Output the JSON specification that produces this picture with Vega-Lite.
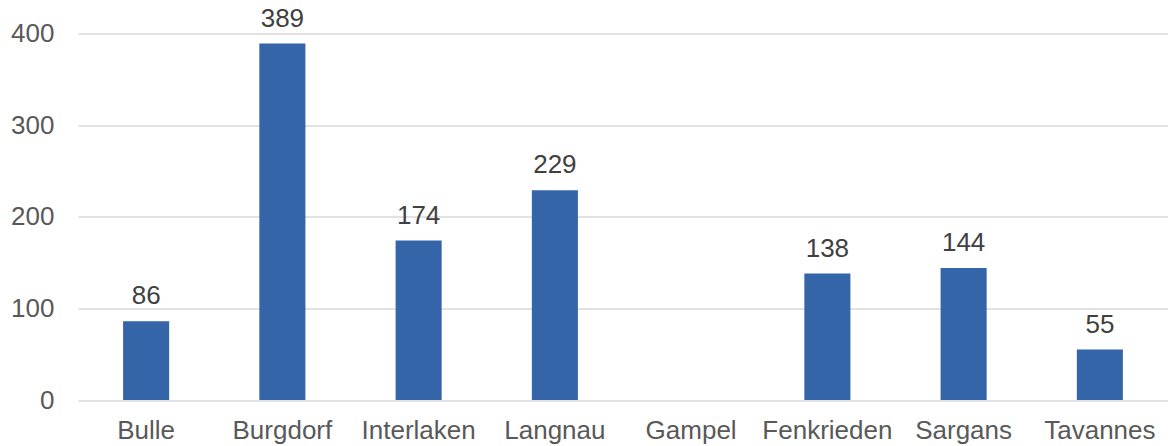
{
  "$schema": "https://vega.github.io/schema/vega-lite/v6.json",
  "width": 1090,
  "height": 366.5,
  "autosize": {"type": "none"},
  "padding": {"left": 78, "top": 33.5, "right": 0, "bottom": 46},
  "background": "white",
  "config": {"view": {"stroke": null}, "font": "Liberation Sans"},
  "data": {"values": [
    {"ort": "Bulle", "value": 86},
    {"ort": "Burgdorf", "value": 389},
    {"ort": "Interlaken", "value": 174},
    {"ort": "Langnau", "value": 229},
    {"ort": "Gampel", "value": null},
    {"ort": "Fenkrieden", "value": 138},
    {"ort": "Sargans", "value": 144},
    {"ort": "Tavannes", "value": 55}
  ]},
  "encoding": {
    "x": {
      "field": "ort", "type": "nominal",
      "scale": {"domain": ["Bulle","Burgdorf","Interlaken","Langnau","Gampel","Fenkrieden","Sargans","Tavannes"], "paddingInner": 0.662, "paddingOuter": 0.331},
      "axis": {"title": null, "labelAngle": 0, "ticks": false, "domain": false, "labelFontSize": 26, "labelColor": "#595959", "labelFont": "Liberation Sans", "labelBaseline": "alphabetic", "labelPadding": 38}
    },
    "y": {
      "field": "value", "type": "quantitative",
      "scale": {"domain": [0, 400], "nice": false},
      "axis": {"title": null, "values": [0,100,200,300,400], "ticks": false, "domain": false, "gridColor": "#D9D9D9", "gridWidth": 1.5, "labelFontSize": 26, "labelColor": "#595959", "labelFont": "Liberation Sans", "labelPadding": 24}
    }
  },
  "layer": [
    {"mark": {"type": "bar", "color": "#3465A8"}},
    {
      "transform": [{"filter": "datum.value != null"}],
      "mark": {"type": "text", "fontSize": 26, "color": "#404040", "baseline": "alphabetic", "dy": -17, "font": "Liberation Sans"},
      "encoding": {"text": {"field": "value", "type": "quantitative"}}
    }
  ]
}
